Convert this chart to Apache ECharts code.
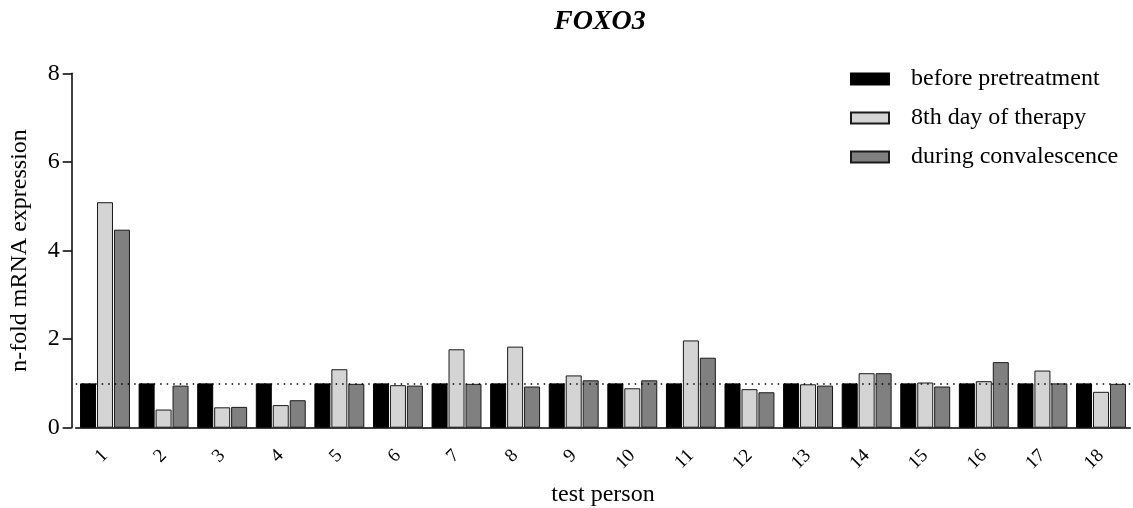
<!DOCTYPE html>
<html>
<head>
<meta charset="utf-8">
<script src="https://cdn.jsdelivr.net/npm/echarts@6/dist/echarts.min.js"></script>
<style>
  html, body { margin: 0; padding: 0; background: #fff; }
  #chart { width: 1133px; height: 508px; }
</style>
</head>
<body>
<div id="chart"></div>
<script>
// Test persons on the x axis
var persons = ['1', '2', '3', '4', '5', '6', '7', '8', '9', '10', '11', '12', '13', '14', '15', '16', '17', '18'];

// Series names
var seriesNames = ['before pretreatment', '8th day of therapy', 'during convalescence'];

// n-fold FOXO3 mRNA expression per time point
var beforePretreatment = [1, 1, 1, 1, 1, 1, 1, 1, 1, 1, 1, 1, 1, 1, 1, 1, 1, 1];
var day8Therapy = [5.09, 0.41, 0.46, 0.51, 1.32, 0.96, 1.77, 1.83, 1.18, 0.89, 1.97, 0.87, 0.98, 1.23, 1.02, 1.05, 1.29, 0.81];
var convalescence = [4.47, 0.95, 0.47, 0.62, 0.99, 0.95, 0.99, 0.93, 1.07, 1.07, 1.58, 0.80, 0.95, 1.23, 0.93, 1.48, 1.00, 0.99];

// Reference level (baseline expression)
var referenceLevel = 1;

// Y axis range
var yMin = 0, yMax = 8, yStep = 2;

var serif = "'Liberation Serif', 'Times New Roman', serif";

var chart = echarts.init(document.getElementById('chart'), null, { renderer: 'canvas' });

function barSeries(name, values, fill, border) {
  return {
    name: name,
    type: 'bar',
    data: values,
    barWidth: 16,
    barGap: '6%',
    z: 3,
    itemStyle: { color: fill, borderColor: border, borderWidth: 1 },
    emphasis: { disabled: true }
  };
}

chart.setOption({
  animation: false,
  backgroundColor: '#ffffff',
  textStyle: { fontFamily: serif, color: '#000' },
  title: {
    text: 'FOXO3',
    left: 554,
    top: 8,
    padding: 0,
    textStyle: { fontFamily: serif, fontSize: 28, fontWeight: 'bold', fontStyle: 'italic', color: '#000' }
  },
  legend: {
    data: seriesNames,
    orient: 'vertical',
    left: 845,
    top: 62,
    itemWidth: 38,
    itemHeight: 11,
    itemGap: 15,
    icon: 'rect',
    selectedMode: false,
    textStyle: { fontFamily: serif, fontSize: 24, color: '#000', lineHeight: 24, padding: [0, 0, 0, 17] }
  },
  grid: { left: 75.7, right: 2.7, top: 73.3, bottom: 80.3, containLabel: false, outerBoundsMode: 'none' },
  xAxis: {
    type: 'category',
    data: persons,
    name: 'test person',
    nameLocation: 'middle',
    nameGap: 55,
    nameTextStyle: { fontFamily: serif, fontSize: 24, color: '#000' },
    axisLine: { lineStyle: { color: '#000', width: 1.5 } },
    axisTick: { alignWithLabel: true, length: 9, lineStyle: { color: '#000', width: 1.5 } },
    axisLabel: { interval: 0, rotate: 45, margin: 25, fontFamily: serif, fontSize: 19, color: '#000' },
    splitLine: { show: false }
  },
  yAxis: {
    type: 'value',
    min: yMin,
    max: yMax,
    interval: yStep,
    offset: 4,
    name: 'n-fold mRNA expression',
    nameLocation: 'middle',
    nameGap: 40,
    nameTextStyle: { fontFamily: serif, fontSize: 24, color: '#000' },
    axisLine: { show: true, lineStyle: { color: '#000', width: 1.5 } },
    axisTick: { show: true, length: 9, lineStyle: { color: '#000', width: 1.5 } },
    axisLabel: { margin: 12, fontFamily: serif, fontSize: 24, color: '#000' },
    splitLine: { show: false }
  },
  series: [
    barSeries(seriesNames[0], beforePretreatment, '#000000', '#000000'),
    barSeries(seriesNames[1], day8Therapy, '#d4d4d4', '#1a1a1a'),
    barSeries(seriesNames[2], convalescence, '#808080', '#1a1a1a'),
    {
      name: 'reference',
      type: 'line',
      data: [],
      z: 1,
      silent: true,
      markLine: {
        silent: true,
        symbol: ['none', 'none'],
        label: { show: false },
        lineStyle: { color: '#000', width: 1.5, type: [1.5, 5] },
        data: [{ yAxis: referenceLevel }]
      }
    }
  ]
});
</script>
</body>
</html>
